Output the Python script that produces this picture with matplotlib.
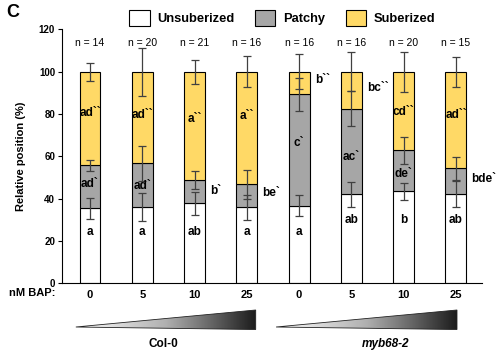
import numpy as np
import matplotlib
matplotlib.use('Agg')
import matplotlib.pyplot as plt
from matplotlib.patches import Patch, Polygon
from matplotlib.colors import LinearSegmentedColormap

plt.rcParams['font.family'] = ['Liberation Sans', 'DejaVu Sans']

# data (% of root length)
doses = ['0', '5', '10', '25', '0', '5', '10', '25']
n_labels = [14, 20, 21, 16, 16, 16, 20, 15]
unsuberized = [35.5, 35.9, 37.8, 35.9, 36.7, 42.1, 43.5, 42.1]
patchy_top = [55.8, 56.7, 48.7, 46.8, 89.4, 82.6, 62.9, 54.4]
suberized_top = [100, 100, 100, 100, 100, 100, 100, 100]
err_unsub = [4.9, 6.6, 5.4, 5.8, 4.9, 5.8, 4.0, 6.2]
err_patchy = [2.7, 8.2, 4.3, 7.0, 7.9, 8.4, 6.5, 5.5]
err_sub = [4.3, 11.3, 5.7, 7.3, 8.2, 9.2, 9.5, 7.1]

unsub_letters = ['a', 'a', 'ab', 'a', 'a', 'ab', 'b', 'ab']
patchy_letters = ['ad`', 'ad`', 'b`', 'be`', 'c`', 'ac`', 'de`', 'bde`']
sub_letters = ['ad``', 'ad``', 'a``', 'a``', 'b``', 'bc``', 'cd``', 'ad``']
# label placement: y value and whether it sits beside the bar
unsub_label_y = [24.4, 24.4, 24.4, 24.4, 24.4, 29.9, 29.9, 29.9]
patchy_label_y = [46.8, 46.0, 43.8, 42.5, 66.2, 59.9, 51.7, 49.2]
patchy_outside = [False, False, True, True, False, False, False, True]
sub_label_y = [80.4, 79.5, 77.5, 79.1, 96.1, 92.2, 81.1, 79.4]
sub_outside = [False, False, False, False, True, True, False, False]

genotypes = ['Col-0', 'myb68-2']

c_white = '#FFFFFF'
c_gray = '#A6A6A6'
c_yellow = '#FFD966'
c_err = '#404040'

fig = plt.figure(figsize=(5.04, 3.61), dpi=100)
ax = fig.add_axes([0.123, 0.2152, 0.833, 0.7031])

x = np.arange(len(doses))
unsub = np.array(unsuberized)
patchy = np.array(patchy_top) - unsub
sub = np.array(suberized_top) - np.array(patchy_top)
w = 0.4

ax.bar(x, unsub, w, color=c_white, edgecolor='black', linewidth=0.8)
ax.bar(x, patchy, w, bottom=unsub, color=c_gray, edgecolor='black', linewidth=0.8)
ax.bar(x, sub, w, bottom=patchy_top, color=c_yellow, edgecolor='black', linewidth=0.8)

for tops, errs in [(suberized_top, err_sub), (patchy_top, err_patchy), (unsuberized, err_unsub)]:
    ax.errorbar(x, tops, yerr=errs, fmt='none', ecolor=c_err, elinewidth=0.9,
                capsize=3.2, capthick=0.9, zorder=5)

lab_kw = dict(fontsize=8.5, fontweight='bold', va='center', zorder=6)
for i in range(len(x)):
    ax.text(x[i], unsub_label_y[i], unsub_letters[i], ha='center', **lab_kw)
    if patchy_outside[i]:
        ax.text(x[i] + 0.3, patchy_label_y[i], patchy_letters[i], ha='left', **lab_kw)
    else:
        ax.text(x[i], patchy_label_y[i], patchy_letters[i], ha='center', **lab_kw)
    if sub_outside[i]:
        ax.text(x[i] + 0.3, sub_label_y[i], sub_letters[i], ha='left', **lab_kw)
    else:
        ax.text(x[i], sub_label_y[i], sub_letters[i], ha='center', **lab_kw)
    ax.text(x[i], 113.5, f'n = {n_labels[i]}', ha='center', va='center', fontsize=7.5)

ax.set_xlim(-0.535, 7.495)
ax.set_ylim(0, 120)
ax.set_yticks(np.arange(0, 121, 20))
ax.tick_params(axis='y', labelsize=7, length=3, width=0.8, pad=2)
for lbl in ax.get_yticklabels():
    lbl.set_fontweight('bold')
ax.set_xticks(x)
ax.set_xticklabels(doses, fontsize=8, fontweight='bold')
ax.tick_params(axis='x', length=0, pad=5)
ax.spines['top'].set_visible(False)
ax.spines['right'].set_visible(False)
ax.spines['left'].set_linewidth(0.8)
ax.spines['bottom'].set_linewidth(0.8)
ax.set_ylabel('Relative position (%)', fontsize=8, fontweight='bold', labelpad=9)

fig.text(0.018, 0.188, 'nM BAP:', fontsize=8, fontweight='bold',
         ha='left', va='center')
fig.text(0.012, 0.965, 'C', fontsize=13, fontweight='bold', ha='left', va='center')

# legend
handles = [Patch(facecolor=c_white, edgecolor='black', linewidth=0.8, label='Unsuberized'),
           Patch(facecolor=c_gray, edgecolor='black', linewidth=0.8, label='Patchy'),
           Patch(facecolor=c_yellow, edgecolor='black', linewidth=0.8, label='Suberized')]
leg = fig.legend(handles=handles, loc='center', bbox_to_anchor=(0.56, 0.951), ncol=3,
                 frameon=False, handlelength=1.55, handleheight=1.55, handletextpad=0.6,
                 columnspacing=1.6, prop={'size': 9.3, 'weight': 'bold'})

# dose gradient wedges under the axis (x in data units, y in pixels from top)
ov = fig.add_axes([0.123, 0.0, 0.833, 1.0])
ov.set_xlim(ax.get_xlim())
ov.set_ylim(361, 0)
ov.axis('off')
cmap = LinearSegmentedColormap.from_list('wedge', ['#ffffff', '#b0b0b0', '#1c1c1c'])
grad = np.linspace(0, 1, 256).reshape(1, -1)
wedges = [(-0.27, 3.17), (3.56, 7.02)]
name_x = [1.4, 5.66]
for (x0, x1), name, nx in zip(wedges, genotypes, name_x):
    tri = Polygon([(x0, 327), (x1, 329.5), (x1, 310)], closed=True,
                  facecolor='none', edgecolor='#222222', linewidth=0.6)
    ov.add_patch(tri)
    im = ov.imshow(grad, cmap=cmap, aspect='auto', extent=(x0, x1, 330, 309),
                   interpolation='bilinear')
    im.set_clip_path(tri)
    style = 'italic' if name.startswith('myb') else 'normal'
    ov.text(nx, 344, name, ha='center', va='center', fontsize=8.5,
            fontweight='bold', fontstyle=style)

fig.savefig('out.png', dpi=100)
